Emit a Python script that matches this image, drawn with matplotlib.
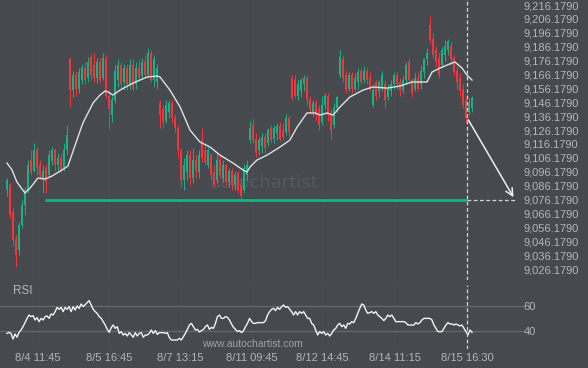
import numpy as np
import matplotlib.pyplot as plt

# OHLC candles (one per bar, left to right)
opens = [9083, 9087, 9067, 9048, 9040, 9058, 9072, 9083, 9105, 9097, 9112, 9101, 9090, 9099, 9094, 9104,
         9112, 9101, 9106, 9099, 9112, 9177, 9155, 9166, 9156, 9162, 9171, 9164, 9179, 9173, 9164, 9175,
         9164, 9177, 9151, 9137, 9148, 9162, 9173, 9161, 9171, 9159, 9173, 9159, 9171, 9165, 9175, 9166,
         9182, 9162, 9161, 9146, 9141, 9133, 9139, 9146, 9135, 9128, 9112, 9090, 9096, 9108, 9092, 9105,
         9096, 9119, 9112, 9101, 9108, 9096, 9090, 9105, 9092, 9101, 9089, 9097, 9087, 9095, 9087, 9083,
         9094, 9119, 9130, 9120, 9112, 9115, 9121, 9117, 9128, 9120, 9124, 9129, 9126, 9125, 9135, 9164,
         9162, 9151, 9154, 9159, 9164, 9148, 9139, 9146, 9141, 9132, 9144, 9151, 9137, 9130, 9142, 9166,
         9177, 9166, 9156, 9166, 9156, 9161, 9169, 9162, 9169, 9164, 9144, 9161, 9154, 9156, 9159, 9150,
         9154, 9159, 9166, 9161, 9155, 9162, 9175, 9162, 9156, 9164, 9159, 9168, 9177, 9202, 9192, 9184,
         9178, 9173, 9180, 9184, 9187, 9178, 9169, 9164, 9156, 9148, 9139, 9142]
highs = [9092, 9088, 9070, 9051, 9060, 9076, 9085, 9105, 9112, 9117, 9114, 9105, 9101, 9102, 9112, 9114,
         9113, 9110, 9110, 9117, 9130, 9179, 9169, 9169, 9171, 9174, 9175, 9179, 9181, 9182, 9178, 9178,
         9182, 9180, 9155, 9151, 9173, 9177, 9175, 9174, 9174, 9177, 9177, 9175, 9177, 9178, 9180, 9185,
         9184, 9180, 9174, 9148, 9144, 9148, 9148, 9148, 9138, 9130, 9113, 9106, 9112, 9112, 9113, 9108,
         9112, 9128, 9117, 9114, 9110, 9101, 9110, 9108, 9105, 9102, 9099, 9099, 9097, 9097, 9092, 9102,
         9105, 9133, 9134, 9124, 9121, 9124, 9124, 9128, 9130, 9130, 9131, 9132, 9131, 9138, 9137, 9166,
         9166, 9162, 9164, 9166, 9166, 9151, 9148, 9148, 9144, 9151, 9153, 9153, 9141, 9146, 9151, 9184,
         9180, 9169, 9168, 9168, 9167, 9171, 9171, 9172, 9171, 9168, 9159, 9162, 9162, 9169, 9162, 9159,
         9162, 9168, 9168, 9164, 9165, 9175, 9178, 9164, 9167, 9168, 9173, 9178, 9185, 9208, 9196, 9187,
         9182, 9186, 9191, 9192, 9190, 9180, 9172, 9167, 9159, 9151, 9149, 9151]
lows = [9079, 9063, 9043, 9028, 9036, 9056, 9065, 9081, 9094, 9096, 9094, 9090, 9081, 9081, 9092, 9101,
        9097, 9096, 9096, 9097, 9108, 9143, 9150, 9151, 9153, 9159, 9159, 9161, 9162, 9161, 9160, 9160,
        9162, 9149, 9127, 9132, 9146, 9157, 9156, 9155, 9155, 9156, 9154, 9156, 9162, 9163, 9164, 9164,
        9161, 9157, 9156, 9128, 9128, 9131, 9135, 9132, 9125, 9106, 9085, 9083, 9090, 9087, 9088, 9092,
        9092, 9103, 9101, 9099, 9090, 9085, 9088, 9092, 9089, 9087, 9085, 9083, 9083, 9081, 9076, 9081,
        9090, 9117, 9117, 9107, 9108, 9110, 9110, 9115, 9117, 9117, 9119, 9118, 9119, 9123, 9121, 9148,
        9149, 9148, 9150, 9154, 9144, 9138, 9136, 9133, 9126, 9130, 9141, 9133, 9119, 9128, 9139, 9164,
        9161, 9153, 9154, 9153, 9154, 9156, 9159, 9160, 9159, 9154, 9143, 9148, 9150, 9154, 9142, 9148,
        9151, 9156, 9156, 9151, 9153, 9159, 9161, 9150, 9154, 9154, 9156, 9164, 9173, 9189, 9178, 9172,
        9164, 9171, 9176, 9180, 9173, 9166, 9156, 9151, 9142, 9131, 9137, 9139]
closes = [9090, 9065, 9047, 9036, 9058, 9072, 9083, 9101, 9096, 9112, 9099, 9094, 9097, 9089, 9108, 9112,
          9101, 9106, 9097, 9112, 9123, 9155, 9166, 9156, 9168, 9171, 9162, 9175, 9166, 9164, 9175, 9162,
          9178, 9151, 9141, 9148, 9169, 9173, 9159, 9171, 9159, 9173, 9156, 9171, 9164, 9175, 9166, 9182,
          9162, 9177, 9171, 9137, 9132, 9144, 9146, 9135, 9128, 9112, 9090, 9101, 9108, 9092, 9105, 9097,
          9108, 9106, 9103, 9112, 9094, 9087, 9105, 9094, 9101, 9089, 9097, 9087, 9094, 9083, 9079, 9099,
          9101, 9128, 9119, 9110, 9119, 9121, 9113, 9126, 9119, 9128, 9129, 9120, 9121, 9135, 9125, 9149,
          9151, 9159, 9162, 9164, 9148, 9141, 9146, 9137, 9130, 9144, 9151, 9137, 9126, 9142, 9150, 9179,
          9164, 9155, 9166, 9156, 9164, 9168, 9161, 9169, 9162, 9156, 9155, 9151, 9161, 9166, 9148, 9156,
          9159, 9166, 9159, 9154, 9162, 9173, 9162, 9153, 9164, 9156, 9169, 9177, 9182, 9191, 9180, 9175,
          9166, 9184, 9187, 9190, 9177, 9168, 9161, 9154, 9144, 9135, 9146, 9149]

# moving average (bar position, value)
ma_pos = [0, 1.7, 3.3, 6, 7.7, 10.3, 12.7, 15, 18.3, 20.3, 23.3, 25.3, 28.7, 31, 32.7, 33.7, 35.3, 37.7,
          42, 46.7, 50, 51, 54.3, 57.7, 61, 64.3, 67.7, 71, 75.3, 78.7, 80, 81, 83.3, 86.7, 91, 94.3,
          96.7, 100, 102.7, 104.3, 106.7, 108.7, 111, 114.3, 118.7, 122, 126.7, 131, 135, 140, 141.7,
          144.3, 146.7, 149.3, 151.7, 153.3, 155]
ma_val = [9102.5, 9097.4, 9088.8, 9080.9, 9084.5, 9091.7, 9091.0, 9093.1, 9097.4, 9100.3, 9119.0, 9131.3,
          9145.7, 9151.4, 9154.3, 9153.6, 9151.4, 9155.0, 9160.0, 9164.4, 9165.1, 9164.4, 9155.0, 9142.8,
          9126.2, 9117.6, 9114.0, 9108.2, 9102.5, 9097.4, 9096.0, 9099.6, 9104.6, 9108.2, 9114.0, 9119.0,
          9128.4, 9138.5, 9138.5, 9137.0, 9138.5, 9137.0, 9142.8, 9150.0, 9155.0, 9157.2, 9156.4, 9157.9,
          9160.8, 9160.8, 9168.0, 9170.8, 9173.0, 9175.2, 9170.8, 9165.8, 9162.2]

rsi = [38.1, 38.9, 38.1, 33.6, 37.6, 35, 38.9, 40.8, 43.5, 46.7, 50.1, 52.8, 51.5, 52.3, 48.8, 50.7, 47.5,
       50.1, 48.8, 51.5, 52, 50.1, 53.6, 52.8, 55.5, 58.9, 57.3, 58.9, 55.5, 58.9, 57.3, 59.5, 55.5, 59.5,
       56.8, 60, 58.1, 61.6, 59.5, 61.1, 62.7, 64.3, 60.8, 57.3, 55.5, 54.1, 51.5, 50.1, 47.5, 44.8, 41.3,
       38.9, 42.7, 44.8, 42.1, 43.5, 38.1, 39.5, 36.8, 38.1, 36, 38.7, 36.8, 35, 38.7, 36, 38.1, 38.7, 35,
       36.8, 36.8, 38.1, 40.8, 38.1, 40.3, 37.3, 38.7, 38.7, 38.7, 38.1, 38.7, 34.7, 32.8, 32.8, 32.8, 32.8,
       34.1, 32.8, 35.5, 38.1, 41.3, 44.8, 46.1, 43.5, 40.8, 41.3, 39.2, 40.3, 41.3, 43.5, 44.8, 41.3, 42.9,
       42.1, 46.1, 51.5, 52.8, 50.1, 50.1, 51.5, 50.9, 48.8, 45.6, 42.9, 41.3, 39.5, 40.3, 38.7, 40.3, 43.5,
       46.1, 50.1, 47.5, 46.1, 46.1, 46.7, 46.7, 46.7, 46.7, 48.3, 52.8, 55.5, 57.3, 58.1, 56.3, 58.9, 57.3,
       59.5, 60.8, 58.9, 59.5, 57.5, 55.5, 52.8, 55.5, 52.8, 55.5, 54.1, 55.5, 52.8, 50.1, 50.1, 46.1, 44.8,
       40.8, 36.8, 39.5, 38.1, 39.5, 36.8, 38.1, 36, 38.1, 40.8, 42.1, 44.8, 46.1, 43.5, 44.8, 42.1, 46.1,
       45.6, 47.5, 46.7, 50.1, 54.1, 58.1, 61.6, 60.8, 56.8, 54.1, 54.7, 55.5, 54.1, 55.5, 52.8, 51.5, 50.1,
       48.3, 50.1, 52.8, 51.5, 52.8, 50.1, 47.5, 47.5, 47.5, 47.5, 47.5, 46.7, 44.8, 44.8, 44.8, 44.8, 46.7,
       45.6, 46.7, 48.8, 50.1, 50.1, 50.1, 50.1, 48.8, 44.8, 42.1, 39.5, 39.5, 39.5, 42.1, 44.8, 46.7, 45.6,
       45.6, 44.8, 45.6, 44.8, 44, 44.8, 42.1, 39.5, 36.8, 40.8, 38.9]

tick_pos = [10.3, 34, 57.8, 81.7, 105.2, 129.2, 153.3]
tick_labels = ['8/4 11:45', '8/5 16:45', '8/7 13:15', '8/11 09:45', '8/12 14:45', '8/14 11:15', '8/15 16:30']
price_ticks = [9026.179 + 10 * k for k in range(20)]

support_level = 9076.179
support_start = 12.7
signal_pos = 153.3
signal_price = 9135.3
target_pos = 169.3

BG = '#46494e'
TXT = '#b3b6b9'
GREEN = '#17b386'
RED = '#f6353b'

plt.rcParams['font.family'] = ['Liberation Sans', 'DejaVu Sans']

fig = plt.figure(figsize=(5.88, 3.68), dpi=100, facecolor=BG)
W, H = 588, 368
ax = fig.add_axes([0, (H - 280) / H, 518 / W, 280 / H], facecolor=BG)
rx = fig.add_axes([0, (H - 349) / H, 518 / W, 64 / H], facecolor=BG)

x = np.arange(len(closes))
o = np.array(opens); c = np.array(closes)
cols = [GREEN if cc >= oo else RED for oo, cc in zip(o, c)]
ax.vlines(x, lows, highs, colors=cols, lw=0.7, zorder=3)
body = np.where(np.abs(c - o) < 1, 1, c - o)
ax.bar(x, body, bottom=o, width=0.62, color=cols, lw=0, zorder=3)

ax.plot(ma_pos, ma_val, color='#e0e0e0', lw=1.0, zorder=4)

# watermark
ax.text(0.51, 0.345, 'autochartist', transform=ax.transAxes, fontsize=13,
        family='DejaVu Sans', color='#55585d', ha='center', va='center', zorder=1)

ax.plot([support_start, signal_pos], [support_level] * 2, color=GREEN, lw=2, zorder=5, solid_capstyle='butt')
ax.plot([signal_pos, target_pos], [support_level] * 2, color='#d6d6d6', lw=0.9, ls=(0, (3, 2)), zorder=5)
ax.annotate('', xy=(target_pos, support_level), xytext=(signal_pos, signal_price),
            arrowprops=dict(arrowstyle='->', color='#eeeeee', lw=1.1, mutation_scale=13), zorder=6)

for a in (ax, rx):
    a.axvline(signal_pos, color='#d6d6d6', lw=0.9, ls=(0, (3, 2)), zorder=5)
    for t in tick_pos:
        a.axvline(t, color='#4a4d52', lw=1, zorder=0)
    a.set_xlim(-2.333, 170.333)
    for s in a.spines.values():
        s.set_visible(False)

ax.set_ylim(9018.3, 9219.8)
ax.yaxis.tick_right()
ax.set_yticks(price_ticks)
ax.set_yticklabels([f'{v:,.4f}' for v in price_ticks])
ax.tick_params(axis='y', length=0, pad=4, labelsize=8, labelcolor=TXT)
ax.set_xticks([])

rx.plot(np.linspace(0, len(closes) - 1, len(rsi)), rsi, color='#f2f2f2', lw=1, zorder=3)
rx.set_ylim(25.6, 76.8)
for lv in (40, 60):
    rx.axhline(lv, color='#64676b', lw=1, zorder=1, clip_on=False, xmax=1.01)
rx.yaxis.tick_right()
rx.set_yticks([40, 60])
rx.tick_params(axis='y', length=0, pad=4, labelsize=8, labelcolor=TXT)
rx.set_xticks(tick_pos)
rx.set_xticklabels(tick_labels)
rx.tick_params(axis='x', length=0, pad=3, labelsize=8, labelcolor=TXT)

fig.text(13 / W, 1 - 291 / H, 'RSI', color=TXT, fontsize=8.5, va='center', ha='left')
fig.text(252 / W, 1 - 344 / H, 'www.autochartist.com', color='#9ea1a5', fontsize=7.5,
         va='center', ha='center')

fig.savefig('out.png', dpi=100, facecolor=BG)
